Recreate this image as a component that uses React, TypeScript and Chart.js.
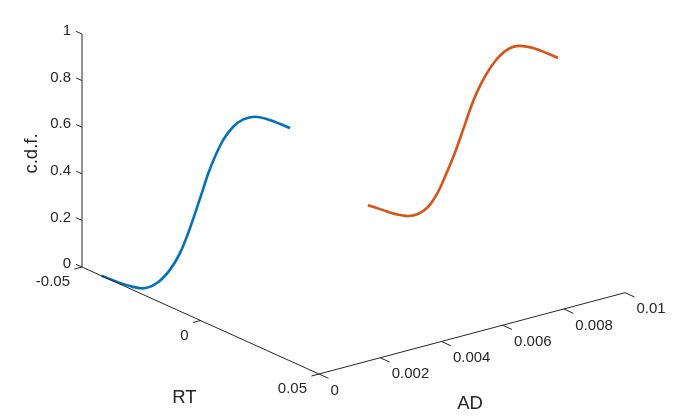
import React, { useEffect, useRef } from "react";
import { Chart, registerables } from "chart.js";

Chart.register(...registerables);

// ---- data ----
const rtBlue = [-0.0417, -0.0311, -0.0248, -0.0185, -0.0129, -0.0087, -0.0052, -0.0023, 0.0005, 0.0033, 0.0061, 0.0096, 0.0138, 0.0181, 0.023, 0.0279, 0.0335, 0.0378];
const cdfBlue = [0, 0.009, 0.024, 0.075, 0.158, 0.248, 0.351, 0.449, 0.548, 0.647, 0.731, 0.819, 0.895, 0.946, 0.98, 0.993, 0.998, 0.999];
const adBlue = 0;

const rtOrange = [-0.0417, -0.0353, -0.0297, -0.0248, -0.0206, -0.0163, -0.0121, -0.0086, -0.0051, -0.0016, 0.0013, 0.0041, 0.0076, 0.0118, 0.0168, 0.0224, 0.0287, 0.0336, 0.0385];
const cdfOrange = [0, 0.008, 0.016, 0.031, 0.059, 0.109, 0.193, 0.288, 0.39, 0.506, 0.605, 0.69, 0.777, 0.861, 0.934, 0.978, 0.996, 0.999, 1.0];
const adOrange = 0.0087;

const rtTicks = [-0.05, 0, 0.05];
const rtTickLabels = ["-0.05", "0", "0.05"];
const adTicks = [0, 0.002, 0.004, 0.006, 0.008, 0.01];
const adTickLabels = ["0", "0.002", "0.004", "0.006", "0.008", "0.01"];
const zTicks = [0, 0.2, 0.4, 0.6, 0.8, 1];
const zTickLabels = ["0", "0.2", "0.4", "0.6", "0.8", "1"];

// ---- layout (3D view projection) ----
const W = 686;
const H = 420;
const RT_MIN = -0.05, RT_MAX = 0.05;
const AD_MIN = 0, AD_MAX = 0.01;
const Z_MIN = 0, Z_MAX = 1;
const ORIGIN = { x: 82, y: 267 };
const U_RT = { x: 237, y: 107 };
const U_AD = { x: 306, y: -81.3 };
const U_Z = { x: 0, y: -233 };
const AXIS_COLOR = "#262626";
const FONT = "'Liberation Sans', Arial, Helvetica, sans-serif";

function project(rt: number, ad: number, z: number) {
  const r = (rt - RT_MIN) / (RT_MAX - RT_MIN);
  const a = (ad - AD_MIN) / (AD_MAX - AD_MIN);
  const c = (z - Z_MIN) / (Z_MAX - Z_MIN);
  return {
    x: ORIGIN.x + r * U_RT.x + a * U_AD.x + c * U_Z.x,
    y: ORIGIN.y + r * U_RT.y + a * U_AD.y + c * U_Z.y,
  };
}

type P = { x: number | null; y: number | null };

function tickSegs(points: { x: number; y: number }[], dx: number, dy: number): P[] {
  const out: P[] = [];
  points.forEach((p) => {
    out.push({ x: p.x, y: p.y }, { x: p.x + dx, y: p.y + dy }, { x: null, y: null });
  });
  return out;
}

export default function App() {
  const ref = useRef<HTMLCanvasElement | null>(null);

  useEffect(() => {
    document.body.style.margin = "0";
    const canvas = ref.current;
    if (!canvas) return;

    const blue = rtBlue.map((rt, i) => project(rt, adBlue, cdfBlue[i]));
    const orange = rtOrange.map((rt, i) => project(rt, adOrange, cdfOrange[i]));

    const zAxis = [project(RT_MIN, AD_MIN, Z_MIN), project(RT_MIN, AD_MIN, Z_MAX)];
    const rtAxis = [project(RT_MIN, AD_MIN, Z_MIN), project(RT_MAX, AD_MIN, Z_MIN)];
    const adAxis = [project(RT_MAX, AD_MIN, Z_MIN), project(RT_MAX, AD_MAX, Z_MIN)];

    const zTickPts = zTicks.map((v) => project(RT_MIN, AD_MIN, v));
    const rtTickPts = rtTicks.map((v) => project(v, AD_MIN, Z_MIN));
    const adTickPts = adTicks.map((v) => project(RT_MAX, v, Z_MIN));

    const zTickSeg = tickSegs(zTickPts, -U_RT.x * 0.025, -U_RT.y * 0.025);
    const rtTickSeg = tickSegs(rtTickPts, -U_AD.x * 0.025, -U_AD.y * 0.025);
    const adTickSeg = tickSegs(adTickPts, U_RT.x * 0.04, U_RT.y * 0.04);

    const axisDs = (data: P[]) => ({
      data,
      borderColor: AXIS_COLOR,
      borderWidth: 1,
      pointRadius: 0,
      showLine: true,
      spanGaps: false,
      tension: 0,
    });

    const labelPlugin = {
      id: "labels3d",
      afterDraw(chart: any) {
        const ctx = chart.ctx;
        const xs = chart.scales.x;
        const ys = chart.scales.y;
        const px = (p: { x: number; y: number }) => ({ x: xs.getPixelForValue(p.x), y: ys.getPixelForValue(p.y) });
        ctx.save();
        ctx.fillStyle = AXIS_COLOR;
        ctx.font = `15px ${FONT}`;
        ctx.textBaseline = "middle";
        // z tick labels
        ctx.textAlign = "right";
        zTickPts.forEach((p, i) => {
          const q = px(p);
          ctx.fillText(zTickLabels[i], q.x - 11, q.y - 3);
        });
        // RT tick labels
        rtTickPts.forEach((p, i) => {
          const q = px(p);
          ctx.fillText(rtTickLabels[i], q.x - 12, q.y + 15);
        });
        // AD tick labels
        ctx.textAlign = "left";
        adTickPts.forEach((p, i) => {
          const q = px(p);
          ctx.fillText(adTickLabels[i], q.x + 11.5, q.y + 16.5);
        });
        // axis titles
        ctx.font = `18.5px ${FONT}`;
        ctx.textAlign = "center";
        const rtMid = px(project((RT_MIN + RT_MAX) / 2, AD_MIN, Z_MIN));
        ctx.fillText("RT", rtMid.x - 16, rtMid.y + 77);
        const adMid = px(project(RT_MAX, (AD_MIN + AD_MAX) / 2, Z_MIN));
        ctx.fillText("AD", adMid.x - 2, adMid.y + 71);
        const zMid = px(project(RT_MIN, AD_MIN, (Z_MIN + Z_MAX) / 2));
        ctx.save();
        ctx.translate(zMid.x - 50, zMid.y + 3);
        ctx.rotate(-Math.PI / 2);
        ctx.fillText("c.d.f.", 0, 0);
        ctx.restore();
        ctx.restore();
      },
    };

    const chart = new Chart(canvas, {
      type: "scatter",
      data: {
        datasets: [
          axisDs(zAxis),
          axisDs(rtAxis),
          axisDs(adAxis),
          axisDs(zTickSeg),
          axisDs(rtTickSeg),
          axisDs(adTickSeg),
          {
            data: blue,
            borderColor: "#0072BD",
            borderWidth: 2.6,
            pointRadius: 0,
            showLine: true,
            cubicInterpolationMode: "monotone",
          },
          {
            data: orange,
            borderColor: "#D95319",
            borderWidth: 2.6,
            pointRadius: 0,
            showLine: true,
            cubicInterpolationMode: "monotone",
          },
        ] as any,
      },
      options: {
        animation: false,
        responsive: true,
        maintainAspectRatio: false,
        layout: { padding: 0 },
        plugins: { legend: { display: false }, tooltip: { enabled: false } },
        scales: {
          x: { type: "linear", min: 0, max: W, display: false },
          y: { type: "linear", min: 0, max: H, reverse: true, display: false },
        },
      },
      plugins: [labelPlugin],
    });
    return () => chart.destroy();
  }, []);

  return (
    <div style={{ position: "relative", width: W, height: H }}>
      <canvas ref={ref} />
    </div>
  );
}
